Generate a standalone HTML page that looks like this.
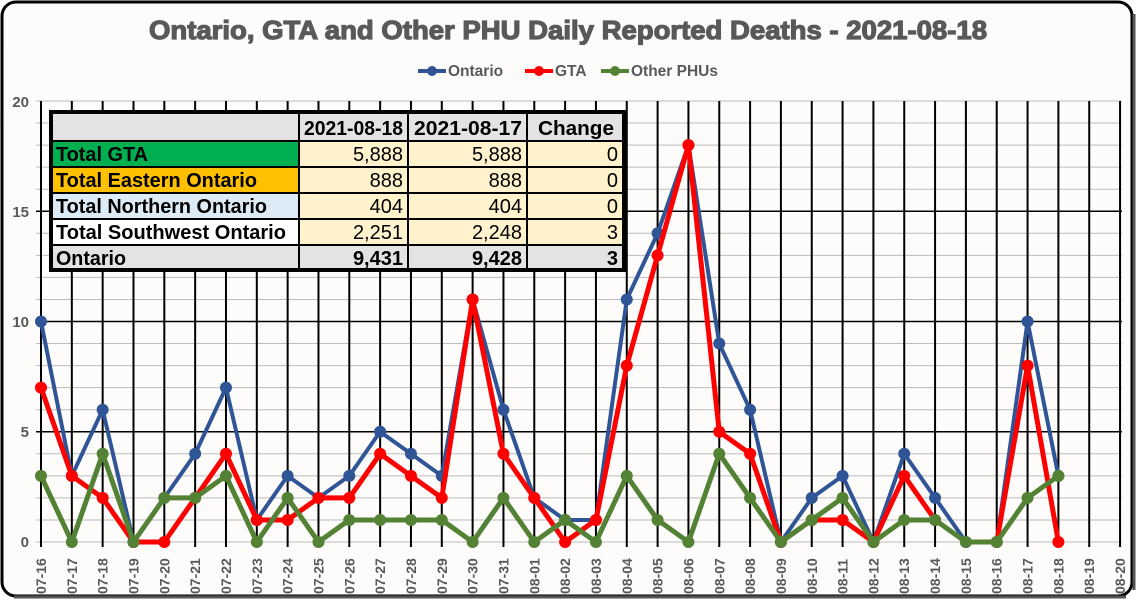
<!DOCTYPE html>
<html><head><meta charset="utf-8"><style>
body{margin:0;background:#fff;width:1138px;height:602px;overflow:hidden;font-family:"Liberation Sans",sans-serif}
</style></head><body>
<svg width="1138" height="602" viewBox="0 0 1138 602" xmlns="http://www.w3.org/2000/svg" font-family="Liberation Sans, sans-serif">
<rect x="2" y="2" width="1130" height="594" rx="14" fill="#fdfcfb" stroke="#000" stroke-width="3"/>
<line x1="14" y1="597" x2="1126" y2="597" stroke="#555" stroke-width="3"/>
<line x1="1134" y1="14" x2="1134" y2="590" stroke="#555" stroke-width="3"/>
<text x="568" y="39" text-anchor="middle" font-size="26" font-weight="bold" fill="#595959" stroke="#595959" stroke-width="1.2" textLength="838" lengthAdjust="spacingAndGlyphs">Ontario, GTA and Other PHU Daily Reported Deaths - 2021-08-18</text>
<g font-size="15.5" font-weight="bold" fill="#595959">
<line x1="418" y1="71" x2="446" y2="71" stroke="#2f5597" stroke-width="4"/><circle cx="432" cy="71" r="5" fill="#2f5597"/><text x="448" y="76">Ontario</text>
<line x1="525" y1="71" x2="553" y2="71" stroke="#f00" stroke-width="4"/><circle cx="539" cy="71" r="5" fill="#f00"/><text x="555" y="76">GTA</text>
<line x1="601" y1="71" x2="629" y2="71" stroke="#548235" stroke-width="4"/><circle cx="615" cy="71" r="5" fill="#548235"/><text x="631" y="76">Other PHUs</text>
</g>
<g id="grid"></g>
<g id="series"></g>
<g font-size="15" font-weight="bold" fill="#595959" text-anchor="end">
<text x="29" y="107">20</text><text x="29" y="217">15</text><text x="29" y="327">10</text><text x="29" y="437">5</text><text x="29" y="547">0</text>
</g>
<g id="xl" font-size="14" font-weight="bold" fill="#595959"></g>
<g font-size="20">
<rect x="49" y="110" width="577" height="162" fill="#000"/>
<rect x="53" y="114" width="245" height="26" fill="#e4e2e2"/>
<rect x="300" y="114" width="107" height="26" fill="#e4e2e2"/><rect x="409" y="114" width="117" height="26" fill="#e4e2e2"/><rect x="528" y="114" width="94" height="26" fill="#e4e2e2"/>
<rect x="53" y="142" width="245" height="24" fill="#00b050"/>
<rect x="53" y="168" width="245" height="24" fill="#ffc000"/>
<rect x="53" y="194" width="245" height="24" fill="#ddebf7"/>
<rect x="53" y="220" width="245" height="24" fill="#fff"/>
<rect x="53" y="246" width="245" height="22" fill="#e4e2e2"/>
<g fill="#fff2cc">
<rect x="300" y="142" width="107" height="24"/><rect x="409" y="142" width="117" height="24"/><rect x="528" y="142" width="94" height="24"/>
<rect x="300" y="168" width="107" height="24"/><rect x="409" y="168" width="117" height="24"/><rect x="528" y="168" width="94" height="24"/>
<rect x="300" y="194" width="107" height="24"/><rect x="409" y="194" width="117" height="24"/><rect x="528" y="194" width="94" height="24"/>
<rect x="300" y="220" width="107" height="24"/><rect x="409" y="220" width="117" height="24"/><rect x="528" y="220" width="94" height="24"/>
</g>
<g fill="#e4e2e2"><rect x="300" y="246" width="107" height="22"/><rect x="409" y="246" width="117" height="22"/><rect x="528" y="246" width="94" height="22"/></g>
<g font-weight="bold" fill="#000">
<text x="403" y="135" text-anchor="end" textLength="99" lengthAdjust="spacingAndGlyphs">2021-08-18</text><text x="522" y="135" text-anchor="end" textLength="108" lengthAdjust="spacingAndGlyphs">2021-08-17</text><text x="614" y="135" text-anchor="end" textLength="76" lengthAdjust="spacingAndGlyphs">Change</text>
<text x="56" y="161" textLength="92" lengthAdjust="spacingAndGlyphs">Total GTA</text><text x="56" y="187" textLength="201" lengthAdjust="spacingAndGlyphs">Total Eastern Ontario</text><text x="56" y="213" textLength="211" lengthAdjust="spacingAndGlyphs">Total Northern Ontario</text><text x="56" y="239" textLength="230" lengthAdjust="spacingAndGlyphs">Total Southwest Ontario</text><text x="56" y="265" textLength="70" lengthAdjust="spacingAndGlyphs">Ontario</text>
<text x="403" y="265" text-anchor="end">9,431</text><text x="522" y="265" text-anchor="end">9,428</text><text x="618" y="265" text-anchor="end">3</text>
</g>
<g fill="#000" text-anchor="end">
<text x="403" y="161">5,888</text><text x="522" y="161">5,888</text><text x="618" y="161">0</text>
<text x="403" y="187">888</text><text x="522" y="187">888</text><text x="618" y="187">0</text>
<text x="403" y="213">404</text><text x="522" y="213">404</text><text x="618" y="213">0</text>
<text x="403" y="239">2,251</text><text x="522" y="239">2,248</text><text x="618" y="239">3</text>
</g>
</g>
</svg>
<script>
const NS="http://www.w3.org/2000/svg";
const X=i=>41+i*30.83, Y=v=>542-v*22.05;
function el(p,t,a){const e=document.createElementNS(NS,t);for(const k in a)e.setAttribute(k,a[k]);p.appendChild(e);return e;}
const g=document.getElementById('grid');
for(let v=0;v<=20;v++){el(g,'line',{x1:36,x2:1122,y1:Y(v),y2:Y(v),stroke:(v%5==0&&v>0&&v<20)?'#000':'#bdbdbd','stroke-width':v%5==0&&v>0&&v<20?1.5:1});}
const dates=[];for(let d=16;d<=31;d++)dates.push('07-'+d);for(let d=1;d<=20;d++)dates.push('08-'+String(d).padStart(2,'0'));
const xl=document.getElementById('xl');
dates.forEach((d,i)=>{el(g,'line',{x1:X(i),x2:X(i),y1:101,y2:547,stroke:'#000','stroke-width':2});
const t=el(xl,'text',{transform:`translate(${X(i)+5},594) rotate(-90)`});t.textContent=d;});
const ON=[10,3,6,0,2,4,7,1,3,2,3,5,4,3,11,6,2,1,1,11,14,18,9,6,0,2,3,0,4,2,0,0,10,3];
const GT=[7,3,2,0,0,2,4,1,1,2,2,4,3,2,11,4,2,0,1,8,13,18,5,4,0,1,1,0,3,1,null,0,8,0];
const OT=[3,0,4,0,2,2,3,0,2,0,1,1,1,1,0,2,0,1,0,3,1,0,4,2,0,1,2,0,1,1,0,0,2,3];
const s=document.getElementById('series');
function draw(d,c,w){let segs=[],cur=[];d.forEach((v,i)=>{if(v==null){if(cur.length)segs.push(cur);cur=[];}else cur.push(X(i)+','+Y(v));});if(cur.length)segs.push(cur);
segs.forEach(sg=>el(s,'polyline',{points:sg.join(' '),fill:'none',stroke:c,'stroke-width':w,'stroke-linejoin':'round'}));
d.forEach((v,i)=>{if(v!=null)el(s,'circle',{cx:X(i),cy:Y(v),r:6,fill:c});});}
draw(ON,'#2f5597',4);draw(GT,'#ff0000',5);draw(OT,'#548235',5);
</script>
</body></html>
